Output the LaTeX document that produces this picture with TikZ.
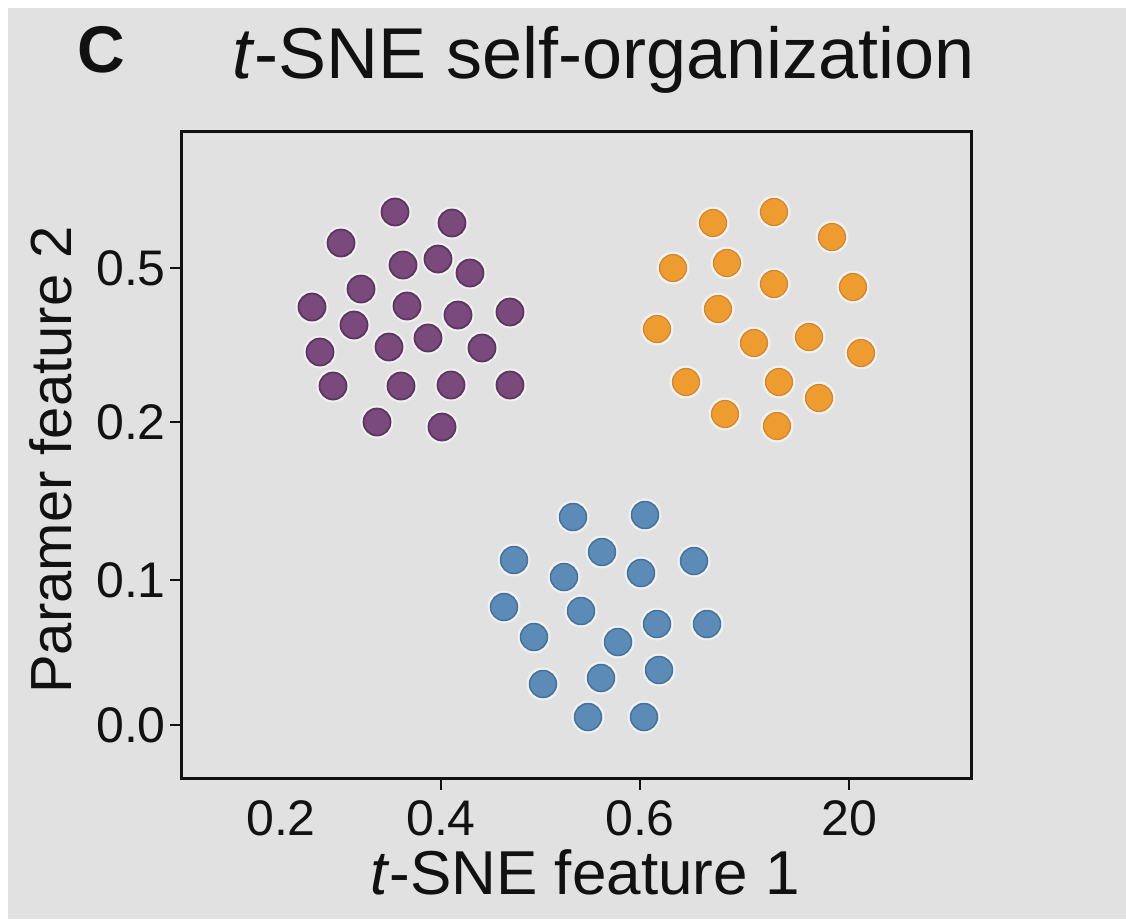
\documentclass[tikz,border=0pt]{standalone}
\usepackage{fontspec}
\setmainfont{Liberation Sans}
\definecolor{bg}{HTML}{E1E1E1}
\definecolor{ink}{HTML}{111111}
\definecolor{purp}{HTML}{7A4A7C}
\definecolor{purpE}{HTML}{5C3560}
\definecolor{oran}{HTML}{EE9B30}
\definecolor{oranE}{HTML}{D4852A}
\definecolor{blu}{HTML}{5B8BB6}
\definecolor{bluE}{HTML}{44729A}
\begin{document}
\begin{tikzpicture}[x=1pt,y=-1pt,
  frame/.style={draw=ink,line width=3pt},
  tickline/.style={draw=ink,line width=2.5pt},
  ticklab/.style={text=ink,font=\fontsize{50}{50}\selectfont,inner sep=0pt},
  axlab/.style={text=ink,font=\fontsize{58}{58}\selectfont,inner sep=0pt},
  halo/.style={fill=white,opacity=0.55},
  pdot/.style={fill=purp,draw=purpE,line width=1.8pt},
  odot/.style={fill=oran,draw=oranE,line width=1.2pt},
  bdot/.style={fill=blu,draw=bluE,line width=1.5pt}]
\useasboundingbox (0,0) rectangle (1126,919);
\fill[bg] (0,0) rectangle (1126,919);
\fill[white] (0,0) rectangle (1126,8);
\fill[white] (0,0) rectangle (8,919);
% title
\node[anchor=base west,inner sep=0pt,text=ink,font=\fontsize{66}{66}\selectfont\bfseries] (panel) at (77,72) {C};
\node[anchor=base west,inner sep=0pt,text=ink,font=\fontsize{72}{72}\selectfont] (title) at (232,78) {\textit{t}-SNE self-organization};
% frame
\coordinate (tl) at (181,131);
\coordinate (br) at (971,778);
\draw[frame] (tl) rectangle (br);
% y ticks
\foreach \y/\l/\n in {268/0.5/ya,422/0.2/yb,580/0.1/yc,725/0.0/yd}{
  \coordinate (\n t) at (181,\y);
  \draw[tickline] (\n t) -- ++(-11,0);
  \node[ticklab,anchor=east] (\n) at (166,\y) {\l};
}
% x ticks
\node[ticklab,anchor=base] (xa) at (281,835) {0.2};
\foreach \x/\l/\n in {441/0.4/xb,640/0.6/xc,849/20/xd}{
  \coordinate (\n t) at (\x,778);
  \draw[tickline] (\n t) -- ++(0,12);
  \node[ticklab,anchor=base] (\n) at (\x,835) {\l};
}
% axis labels
\node[anchor=base,inner sep=0pt,text=ink,font=\fontsize{62}{62}\selectfont] (xlabel) at (585,894) {\textit{t}-SNE feature 1};
\node[axlab,rotate=90,anchor=base] (ylabel) at (71,460) {Paramer feature 2};
% purple cluster
\foreach \x/\y in {395/212,452/223,341/243,403/265,438/259,470/273,361/289,312/307,407/306,458/315,510/312,354/325,428/338,320/352,389/347,482/348,333/386,401/386,451/385,510/385,377/422,442/427}{
  \fill[halo] (\x,\y) circle (16.5);
  \path[pdot] (\x,\y) circle (13.5);
}
% orange cluster
\foreach \x/\y in {713/223,774/212,832/237,673/268,727/263,774/284,853/287,718/309,657/329,754/343,809/337,861/353,686/382,779/382,819/398,725/414,777/426}{
  \fill[halo] (\x,\y) circle (16.5);
  \path[odot] (\x,\y) circle (13.5);
}
% blue cluster
\foreach \x/\y in {573/517,645/515,514/560,602/552,564/577,641/573,694/561,504/607,581/611,657/624,707/624,534/637,618/642,659/670,543/684,601/678,588/717,644/717}{
  \fill[halo] (\x,\y) circle (16.5);
  \path[bdot] (\x,\y) circle (13.5);
}
\end{tikzpicture}
\end{document}
